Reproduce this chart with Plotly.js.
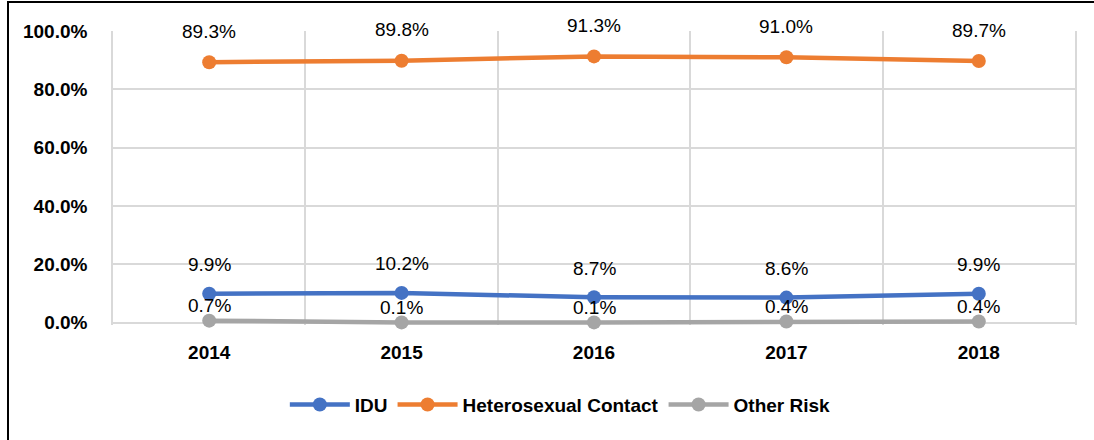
<!DOCTYPE html>
<html><head><meta charset="utf-8">
<script src="https://cdn.plot.ly/plotly-3.0.1.min.js"></script>
<style>body{margin:0;background:#fff}#frame{position:absolute;left:7px;top:1px;width:1200px;height:600px;border-left:2px solid #000;border-top:2px solid #000;pointer-events:none}</style>
</head><body>
<div id="chart" style="width:1094px;height:440px;position:absolute;left:0;top:0"></div>
<div id="frame"></div>
<script>
const years = ['2014','2015','2016','2017','2018'];
const idu = [9.9, 10.2, 8.7, 8.6, 9.9];
const hetero = [89.3, 89.8, 91.3, 91.0, 89.7];
const other = [0.7, 0.1, 0.1, 0.4, 0.4];
const names = ['IDU','Heterosexual Contact','Other Risk'];
const yTickVals = [0, 20, 40, 60, 80, 100];
const yTickLabels = ['0.0%', '20.0%', '40.0%', '60.0%', '80.0%', '100.0%'];
const colors = ['#4472C4','#ED7D31','#A5A5A5'];
const series = [idu, hetero, other];
const labelShift = [29, 31, 15];

const tickFont = {family:'"Liberation Sans", Arial, sans-serif', size:19, color:'#000', weight:'bold'};
const traces = series.map((s,i)=>({
  x: years, y: s, name: names[i], type:'scatter', mode:'lines+markers',
  line:{color:colors[i], width:4.5}, marker:{color:colors[i], size:14},
  cliponaxis:false, hoverinfo:'skip'
}));
const annotations = [];
series.forEach((s,i)=>{
  s.forEach((v,j)=>{
    annotations.push({x:j, y:v, xref:'x', yref:'y', text:v.toFixed(1)+'%', showarrow:false,
      yshift:labelShift[i], yanchor:'middle', xanchor:'center',
      font:{family:'"Liberation Sans", Arial, sans-serif', size:19, color:'#000'}});
  });
});
const layout = {
  width:1094, height:440,
  margin:{l:113, r:19, t:31, b:114.7},
  paper_bgcolor:'#fff', plot_bgcolor:'#fff',
  showlegend:true,
  legend:{orientation:'h', x:0.465, xanchor:'center', y:-0.271, yanchor:'middle',
    font:tickFont, itemwidth:60, traceorder:'normal'},
  xaxis:{type:'category', range:[-0.5,4.5], tickson:'boundaries', showgrid:true, gridcolor:'#d9d9d9', gridwidth:1.5,
    showline:false, ticks:'', tickfont:tickFont, ticklabelstandoff:14, fixedrange:true},
  yaxis:{range:[-0.8,100], tickmode:'array', tickvals:yTickVals, ticktext:yTickLabels, showgrid:true, gridcolor:'#d9d9d9', gridwidth:1.5,
    showline:true, linecolor:'#d9d9d9', linewidth:1.5, mirror:true, ticks:'', tickfont:tickFont, ticklabelstandoff:20, zeroline:false, fixedrange:true},
  annotations: annotations
};
Plotly.newPlot('chart', traces, layout, {displayModeBar:false});
</script>
</body></html>
